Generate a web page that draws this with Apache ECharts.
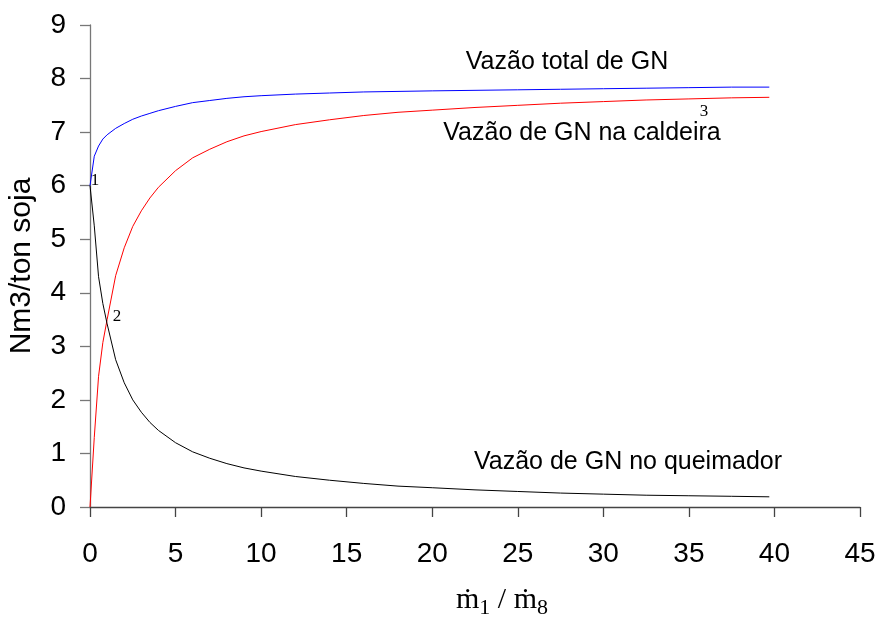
<!DOCTYPE html>
<html>
<head>
<meta charset="utf-8">
<script src="https://cdn.jsdelivr.net/npm/echarts@6/dist/echarts.min.js"></script>
<style>
  html, body { margin: 0; padding: 0; background: #fff; }
  #chart { width: 880px; height: 618px; }
</style>
</head>
<body>
<div id="chart"></div>
<script>
// Razão de vazões m1/m8
const razao = [0, 0.25, 0.5, 0.75, 1, 1.5, 2, 2.5, 3, 3.5, 4, 5, 6, 7, 8, 9, 10, 12, 14, 16, 18, 20, 22.5, 25, 27.5, 30, 32.5, 35, 37.5, 39.7];
// Vazão total de GN (Nm3/ton soja)
const vazaoTotal = [6.0, 6.55, 6.74, 6.87, 6.95, 7.07, 7.16, 7.24, 7.3, 7.35, 7.4, 7.48, 7.55, 7.59, 7.63, 7.66, 7.68, 7.71, 7.73, 7.75, 7.76, 7.77, 7.78, 7.79, 7.8, 7.81, 7.82, 7.83, 7.84, 7.84];
// Vazão de GN na caldeira
const vazaoCaldeira = [0, 1.3, 2.44, 3.07, 3.5, 4.32, 4.84, 5.24, 5.53, 5.77, 5.97, 6.28, 6.52, 6.68, 6.82, 6.93, 7.01, 7.14, 7.23, 7.31, 7.37, 7.41, 7.46, 7.5, 7.54, 7.57, 7.6, 7.62, 7.64, 7.65];
// Vazão de GN no queimador
const vazaoQueimador = [6.0, 5.25, 4.3, 3.8, 3.42, 2.75, 2.32, 2.0, 1.77, 1.58, 1.43, 1.2, 1.03, 0.91, 0.81, 0.73, 0.67, 0.57, 0.5, 0.44, 0.39, 0.36, 0.32, 0.29, 0.26, 0.24, 0.22, 0.21, 0.2, 0.19];

const pares = ys => razao.map((x, i) => [x, ys[i]]);

const chart = echarts.init(document.getElementById('chart'));
const sans = 'Liberation Sans, Arial, sans-serif';
const serif = 'Liberation Serif, Times New Roman, serif';

chart.setOption({
  animation: false,
  backgroundColor: '#fff',
  grid: { left: 90, right: 20, top: 25, bottom: 111, containLabel: false, outerBoundsMode: 'none' },
  xAxis: {
    type: 'value', min: 0, max: 45, interval: 5,
    axisLine: { lineStyle: { color: '#444', width: 1.3 } },
    axisTick: { inside: false, length: 10, lineStyle: { color: '#444', width: 1.3 } },
    axisLabel: { color: '#000', fontFamily: sans, fontSize: 28, margin: 33 },
    splitLine: { show: false }
  },
  yAxis: {
    type: 'value', min: 0, max: 9, interval: 1,
    name: 'Nm3/ton soja', nameLocation: 'middle', nameGap: 53,
    nameTextStyle: { color: '#000', fontFamily: sans, fontSize: 30 },
    axisLine: { show: true, lineStyle: { color: '#777', width: 1.3 } },
    axisTick: { show: true, inside: false, length: 10, lineStyle: { color: '#777', width: 1.3 } },
    axisLabel: { color: '#000', fontFamily: sans, fontSize: 28, margin: 24 },
    splitLine: { show: false }
  },
  series: [
    { name: 'Vazão total de GN', type: 'line', data: pares(vazaoTotal), showSymbol: false,
      lineStyle: { color: '#0000ff', width: 1 }, itemStyle: { color: '#0000ff' } },
    { name: 'Vazão de GN na caldeira', type: 'line', data: pares(vazaoCaldeira), showSymbol: false,
      lineStyle: { color: '#ff0000', width: 1 }, itemStyle: { color: '#ff0000' } },
    { name: 'Vazão de GN no queimador', type: 'line', data: pares(vazaoQueimador), showSymbol: false,
      lineStyle: { color: '#000000', width: 1 }, itemStyle: { color: '#000000' } }
  ],
  graphic: [
    { type: 'text', x: 567, y: 62, style: { text: 'Vazão total de GN', font: '25px ' + sans, fill: '#000', align: 'center', verticalAlign: 'middle' } },
    { type: 'text', x: 582, y: 133, style: { text: 'Vazão de GN na caldeira', font: '25px ' + sans, fill: '#000', align: 'center', verticalAlign: 'middle' } },
    { type: 'text', x: 628, y: 462, style: { text: 'Vazão de GN no queimador', font: '25px ' + sans, fill: '#000', align: 'center', verticalAlign: 'middle' } },
    { type: 'text', x: 95, y: 181, style: { text: '1', font: '17px ' + serif, fill: '#000', align: 'center', verticalAlign: 'middle' } },
    { type: 'text', x: 117, y: 317, style: { text: '2', font: '17px ' + serif, fill: '#000', align: 'center', verticalAlign: 'middle' } },
    { type: 'text', x: 704, y: 112, style: { text: '3', font: '17px ' + serif, fill: '#000', align: 'center', verticalAlign: 'middle' } },
    { type: 'text', x: 502, y: 600,
      style: {
        text: '{m|ṁ}{s|1}{m| / ṁ}{s|8}',
        align: 'center', verticalAlign: 'middle', fill: '#000',
        rich: {
          m: { fontFamily: serif, fontSize: 30, fill: '#000' },
          s: { fontFamily: serif, fontSize: 22, fill: '#000', verticalAlign: 'bottom', padding: [16, 0, 0, 0] }
        }
      } }
  ]
});
</script>
</body>
</html>
